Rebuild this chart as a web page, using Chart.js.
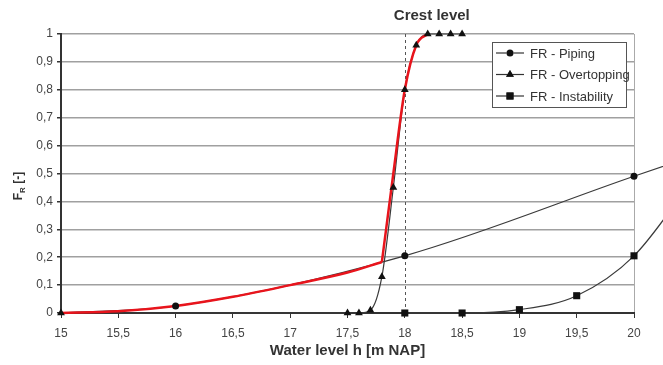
<!DOCTYPE html>
<html>
<head>
<meta charset="utf-8">
<script src="https://cdn.jsdelivr.net/npm/chart.js@4"></script>
<style>
  html, body { margin: 0; padding: 0; background: #fff; }
  #wrap { width: 663px; height: 365px; }
</style>
</head>
<body>
<div id="wrap"><canvas id="frChart"></canvas></div>
<script>
// water levels and fragilities
const pipingX = [15, 16, 18, 20, 20.5];
const pipingY = [0, 0.025, 0.205, 0.49, 0.56];
const pipingMarks = [false, true, true, true, false];

const overtopX = [15, 17.5, 17.6, 17.7, 17.8, 17.9, 18, 18.1, 18.2, 18.3, 18.4, 18.5];
const overtopY = [0, 0, 0, 0.01, 0.13, 0.45, 0.8, 0.96, 1, 1, 1, 1];

const instabX = [18, 18.5, 19, 19.5, 20, 20.5];
const instabY = [0, 0, 0.012, 0.062, 0.205, 0.47];
const instabMarks = [true, true, true, true, true, false];

// combined (red) curve, in two pieces: smooth piping part, then overtopping part
const totalLowX = [15, 15.5, 16, 16.5, 17, 17.5, 17.8];
const totalLowY = [0, 0.006, 0.025, 0.058, 0.1, 0.145, 0.183];
const totalHighX = [17.8, 17.9, 18, 18.1, 18.2];
const totalHighY = [0.183, 0.5, 0.8, 0.96, 1];

const crestLevel = 18;
const seriesLabels = ['FR - Piping', 'FR - Overtopping', 'FR - Instability'];
const seriesMarkers = ['circle', 'triangle', 'rect'];
const markerSizes = [3.5, 4.5, 5];

function pts(xs, ys) {
    return xs.map((x, i) => ({x: x, y: ys[i]}))
}

function lineSet(xs, ys, color, width, order) {
    return {
        data: pts(xs, ys),
        borderColor: color,
        borderWidth: width,
        pointRadius: 0,
        showLine: true,
        cubicInterpolationMode: 'monotone',
        clip: false,
        order: order,
    }
}

function markerSet(xs, ys, idx, show) {
    return {
        data: pts(xs, ys),
        showLine: false,
        pointStyle: seriesMarkers[idx],
        pointRadius: xs.map((x, i) => (show && !show[i]) ? 0 : markerSizes[idx]),
        backgroundColor: '#111',
        borderColor: '#111',
        borderWidth: 0,
        clip: false,
        order: 1,
    }
}

const datasets = [
    lineSet(pipingX, pipingY, '#3a3a3a', 1.2, 3),
    lineSet(overtopX, overtopY, '#3a3a3a', 1.2, 3),
    lineSet(instabX, instabY, '#3a3a3a', 1.2, 3),
    lineSet(totalLowX, totalLowY, '#e8141c', 2.5, 2),
    lineSet(totalHighX, totalHighY, '#e8141c', 2.5, 2),
    markerSet(pipingX, pipingY, 0, pipingMarks),
    markerSet(overtopX, overtopY, 1, null),
    markerSet(instabX, instabY, 2, instabMarks),
]

const fmt = v => String(Math.round(v * 10) / 10).replace('.', ',')

// keep the points past x = 20 so the curves run on to the edge
const keepAll = {
    id: 'keepAll',
    beforeDatasetUpdate(chart, args) {
        args.meta._sorted = false
    }
}

// crest line, axis titles and the legend box
const extras = {
    id: 'extras',
    beforeDatasetsDraw(chart) {
        const ctx = chart.ctx
        const area = chart.chartArea
        const xs = chart.scales.x.getPixelForValue(crestLevel)
        ctx.save()
        ctx.strokeStyle = '#555'
        ctx.lineWidth = 1
        ctx.setLineDash([3, 3])
        ctx.beginPath()
        ctx.moveTo(Math.round(xs) + 0.5, area.top)
        ctx.lineTo(Math.round(xs) + 0.5, area.bottom)
        ctx.stroke()
        ctx.restore()
    },
    afterDraw(chart) {
        const ctx = chart.ctx
        const area = chart.chartArea
        const xs = chart.scales.x.getPixelForValue(crestLevel)
        ctx.save()
        ctx.fillStyle = '#333'
        ctx.textBaseline = 'alphabetic'
        ctx.textAlign = 'center'
        ctx.font = 'bold 15px "Liberation Sans", Arial, sans-serif'
        ctx.fillText('Crest level', xs + 27, 20)
        ctx.fillText('Water level h [m NAP]', (area.left + area.right) / 2, 355)

        // y title with subscript
        ctx.translate(22, 186)
        ctx.rotate(-Math.PI / 2)
        ctx.textAlign = 'left'
        ctx.font = 'bold 12px "Liberation Sans", Arial, sans-serif'
        const w1 = ctx.measureText('F').width
        ctx.font = 'bold 8px "Liberation Sans", Arial, sans-serif'
        const w2 = ctx.measureText('R').width
        ctx.font = 'bold 12px "Liberation Sans", Arial, sans-serif'
        const w3 = ctx.measureText(' [-]').width
        let x0 = -(w1 + w2 + w3) / 2
        ctx.fillText('F', x0, 0)
        ctx.font = 'bold 8px "Liberation Sans", Arial, sans-serif'
        ctx.fillText('R', x0 + w1, 3)
        ctx.font = 'bold 12px "Liberation Sans", Arial, sans-serif'
        ctx.fillText(' [-]', x0 + w1 + w2, 0)
        ctx.restore()

        // legend
        ctx.save()
        const bx = 492, by = 42, bw = 134, bh = 65
        ctx.fillStyle = '#fff'
        ctx.fillRect(bx, by, bw, bh)
        ctx.strokeStyle = '#555'
        ctx.lineWidth = 1
        ctx.strokeRect(bx + 0.5, by + 0.5, bw, bh)
        ctx.font = '13px "Liberation Sans", Arial, sans-serif'
        ctx.textBaseline = 'middle'
        seriesLabels.forEach((lab, i) => {
            const y = by + 11 + i * 21.5
            ctx.strokeStyle = '#333'
            ctx.lineWidth = 1.2
            ctx.beginPath()
            ctx.moveTo(bx + 4, y)
            ctx.lineTo(bx + 32, y)
            ctx.stroke()
            Chart.helpers.drawPoint(ctx, {pointStyle: seriesMarkers[i], radius: markerSizes[i], borderWidth: 0}, bx + 18, y)
            ctx.fillStyle = '#111'
            ctx.fill()
            ctx.fillStyle = '#333'
            ctx.fillText(lab, bx + 38, y + 1)
        })
        ctx.restore()
    }
}

new Chart('frChart', {
    type: 'scatter',
    data: {datasets: datasets},
    plugins: [keepAll, extras],
    options: {
        responsive: true,
        maintainAspectRatio: false,
        animation: false,
        layout: {
            padding: {left: 0, right: 29, top: 34, bottom: 0},
        },
        plugins: {
            legend: {display: false},
            tooltip: {enabled: false},
        },
        scales: {
            x: {
                type: 'linear',
                min: 15,
                max: 20,
                afterFit: (s) => { s.height = 52 },
                ticks: {
                    stepSize: 0.5,
                    padding: 8,
                    color: '#444',
                    font: {size: 12, family: '"Liberation Sans", Arial, sans-serif'},
                    callback: (v) => fmt(v),
                },
                grid: {
                    drawOnChartArea: true,
                    color: (c) => (c.tick && c.tick.value === 20) ? '#aaa' : 'rgba(0,0,0,0)',
                    tickColor: '#333',
                    tickLength: 5,
                },
                border: {color: '#333', width: 2},
            },
            y: {
                min: 0,
                max: 1,
                afterFit: (s) => { s.width = 61 },
                ticks: {
                    stepSize: 0.1,
                    padding: 4,
                    color: '#444',
                    font: {size: 12, family: '"Liberation Sans", Arial, sans-serif'},
                    callback: (v) => fmt(v),
                },
                grid: {
                    color: '#a0a0a0',
                    lineWidth: 1.5,
                    tickColor: '#333',
                    tickLength: 4,
                },
                border: {color: '#333', width: 2},
            },
        },
    },
})
</script>
</body>
</html>
